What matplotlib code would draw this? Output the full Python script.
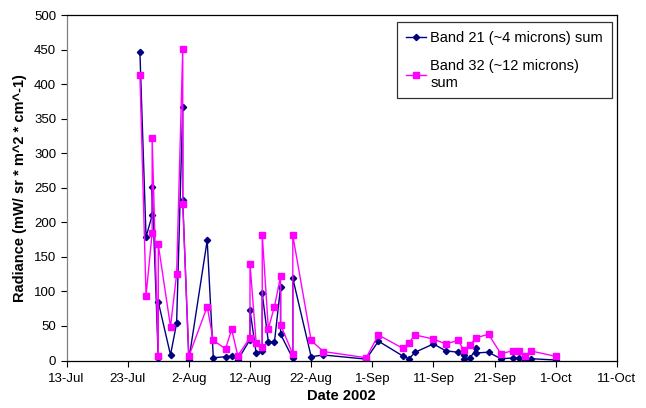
import matplotlib
matplotlib.use("Agg")
import matplotlib.pyplot as plt
import matplotlib.dates as mdates
import pandas as pd

plt.rcParams['font.family'] = ['Liberation Sans', 'DejaVu Sans']

# Band 21 (~4 microns) sum
b21_dates = ['07-25', '07-26', '07-27', '07-27', '07-28', '07-28', '07-30', '07-31',
             '08-01', '08-01', '08-02', '08-05', '08-06', '08-08', '08-09', '08-10',
             '08-12', '08-12', '08-13', '08-14', '08-14', '08-15', '08-16', '08-17',
             '08-17', '08-19', '08-19', '08-22', '08-24', '08-31', '09-02', '09-06',
             '09-07', '09-08', '09-11', '09-13', '09-15', '09-16', '09-16', '09-17',
             '09-18', '09-18', '09-20', '09-22', '09-24', '09-25', '09-26', '09-27',
             '10-01']
b21_vals = [446, 179, 210, 251, 3, 85, 8, 54,
            367, 232, 1, 174, 4, 5.5, 6.5, 1,
            30, 73, 11, 14, 97, 27, 27, 107,
            38, 3, 119, 5.5, 8, 2, 28, 6.5,
            2.6, 12, 24, 14, 12, 7.5, 2.6, 3.6,
            17.6, 11, 12, 2.6, 3.6, 3.6, 0.7, 2.6,
            0.7]

# Band 32 (~12 microns) sum
b32_dates = ['07-25', '07-26', '07-27', '07-27', '07-28', '07-28', '07-30', '07-31',
             '08-01', '08-01', '08-02', '08-05', '08-06', '08-08', '08-09', '08-10',
             '08-12', '08-12', '08-13', '08-14', '08-14', '08-15', '08-16', '08-17',
             '08-17', '08-19', '08-19', '08-22', '08-24', '08-31', '09-02', '09-06',
             '09-07', '09-08', '09-11', '09-13', '09-15', '09-16', '09-17', '09-18',
             '09-20', '09-22', '09-24', '09-25', '09-26', '09-27', '10-01']
b32_vals = [413, 94, 185, 322, 6, 168, 49, 125,
            451, 227, 6, 78, 29, 17, 45, 7,
            33, 140, 26, 19, 182, 46, 78, 122,
            52, 9, 181, 29, 13, 4, 37, 17.6,
            26, 37, 31, 24, 29, 15, 23, 33,
            38, 10, 14, 14, 6.5, 13.7, 6]

x21 = pd.to_datetime(['2002-' + d for d in b21_dates])
x32 = pd.to_datetime(['2002-' + d for d in b32_dates])

fig = plt.figure(figsize=(6.46, 4.08), dpi=100)
ax = fig.add_axes([0.103, 0.1164, 0.852, 0.8466])

ax.plot(x21, b21_vals, color='#000080', marker='D', markersize=3.2, lw=1,
        label='Band 21 (~4 microns) sum')
ax.plot(x32, b32_vals, color='#FF00FF', marker='s', markersize=5, lw=1,
        label='Band 32 (~12 microns)\nsum')

ax.set_ylim(0, 500)
ax.set_yticks(range(0, 501, 50))
start = pd.Timestamp('2002-07-13')
ticks = pd.date_range(start, periods=10, freq='10D')
ax.set_xlim(mdates.date2num(ticks[0]), mdates.date2num(ticks[-1]))
ax.set_xticks(mdates.date2num(ticks))
ax.set_xticklabels([f"{t.day}-{t.strftime('%b')}" for t in ticks])

ax.tick_params(axis='both', labelsize=9.5, length=4, width=0.8, direction='out')
ax.tick_params(axis='x', pad=5)
ax.spines['left'].set_color('#808080')
ax.spines['bottom'].set_color('black')
ax.spines['top'].set_color('black')
ax.spines['right'].set_color('black')
for s in ax.spines.values():
    s.set_linewidth(0.9)

ax.set_xlabel('Date 2002', fontsize=10.5, fontweight='bold', labelpad=3)
ax.set_ylabel('Radiance (mW/ sr * m^2 * cm^-1)', fontsize=10.5, fontweight='bold', labelpad=5)

leg = ax.legend(loc='upper right', bbox_to_anchor=(0.991, 0.98), borderaxespad=0,
                fontsize=10.5, frameon=True, fancybox=False, edgecolor='black',
                handlelength=1.4, labelspacing=1.0, borderpad=0.6, handletextpad=0.3)
leg.get_frame().set_linewidth(0.9)

fig.savefig('out.png', dpi=100)
